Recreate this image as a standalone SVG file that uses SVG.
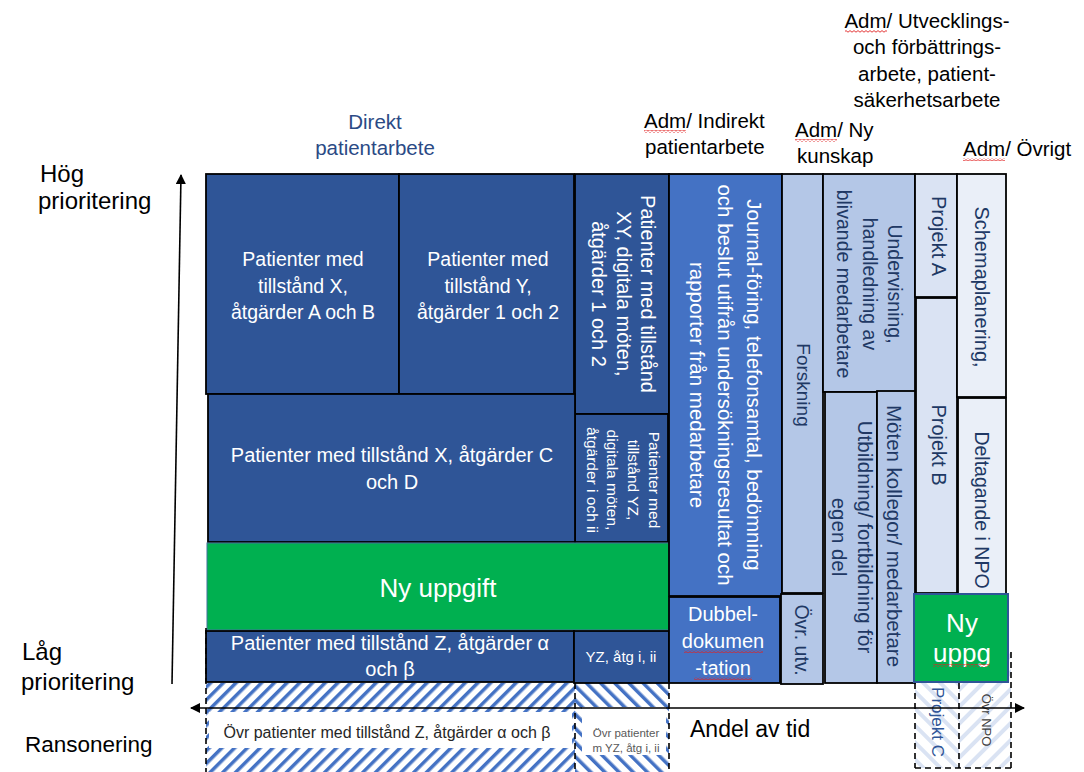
<svg xmlns="http://www.w3.org/2000/svg" width="1084" height="772" viewBox="0 0 1084 772">
<defs>
<style>
text{font-family:"Liberation Sans",Arial,sans-serif}
.w{fill:#fff}
.nv{fill:#203864}
.k{fill:#000}
.dk{fill:#2F5597;stroke:#000;stroke-width:1.8}
.md{fill:#4472C4;stroke:#000;stroke-width:1.8}
.lt{fill:#B4C7E7;stroke:#000;stroke-width:1.8}
.pj{fill:#DAE3F3;stroke:#000;stroke-width:1.8}
.xl{fill:#EAEFF8;stroke:#000;stroke-width:1.8}
.gr{fill:#00B050}
.dash{fill:none;stroke:#000;stroke-width:1.6;stroke-dasharray:6 4}
.ax{fill:none;stroke:#000;stroke-width:1.6}
.wv{fill:url(#wavy)}
</style>
<pattern id="hatchF" patternUnits="userSpaceOnUse" width="9" height="9" patternTransform="rotate(45)">
<rect x="0" y="0" width="3.5" height="9" fill="#4472C4"/>
</pattern>
<pattern id="hatchB" patternUnits="userSpaceOnUse" width="10" height="10" patternTransform="rotate(-45)">
<rect x="0" y="0" width="3.5" height="10" fill="#4472C4"/>
</pattern>
<pattern id="hatchLB" patternUnits="userSpaceOnUse" width="12" height="12" patternTransform="rotate(-45)">
<rect x="0" y="0" width="4" height="12" fill="#DAE3F3"/>
</pattern>
<pattern id="hatchLF" patternUnits="userSpaceOnUse" width="12" height="12" patternTransform="rotate(45)">
<rect x="0" y="0" width="4" height="12" fill="#DAE3F3"/>
</pattern>
<pattern id="wavy" patternUnits="userSpaceOnUse" width="4" height="3">
<path d="M0,2.2 L2,0.6 L4,2.2" fill="none" stroke="#E02020" stroke-width="0.9"/>
</pattern>
<marker id="arr" viewBox="0 0 10 10" refX="9" refY="5" markerWidth="11" markerHeight="10" markerUnits="userSpaceOnUse" orient="auto-start-reverse">
<path d="M0,0 L10,5 L0,10 Z" fill="#000"/>
</marker>
</defs>
<rect width="1084" height="772" fill="#fff"/>

<!-- headings -->
<g id="labels">
<text x="375" y="129" font-size="20.5" text-anchor="middle" fill="#2B4A85">Direkt</text>
<text x="375" y="155" font-size="20.5" text-anchor="middle" fill="#2B4A85">patientarbete</text>
<text x="644" y="128" font-size="20.5" class="k">Adm/ Indirekt</text>
<text x="645" y="154" font-size="20.5" class="k">patientarbete</text>
<rect x="644" y="130" width="42" height="3" class="wv"/>
<text x="795" y="137" font-size="20.5" class="k">Adm/ Ny</text>
<text x="797" y="163" font-size="20.5" class="k">kunskap</text>
<rect x="795" y="139" width="42" height="3" class="wv"/>
<text x="927" y="28" font-size="20.5" text-anchor="middle" class="k">Adm/ Utvecklings-</text>
<text x="927" y="54" font-size="20.5" text-anchor="middle" class="k">och förbättrings-</text>
<text x="927" y="81" font-size="20.5" text-anchor="middle" class="k">arbete, patient-</text>
<text x="927" y="107" font-size="20.5" text-anchor="middle" class="k">säkerhetsarbete</text>
<rect x="845" y="30" width="42" height="3" class="wv"/>
<text x="963" y="156" font-size="20.5" class="k">Adm/ Övrigt</text>
<rect x="963" y="158" width="42" height="3" class="wv"/>
<text x="40" y="182" font-size="24" class="k">Hög</text>
<text x="38" y="209" font-size="24" class="k">prioritering</text>
<text x="22" y="660" font-size="24" class="k">Låg</text>
<text x="21" y="690" font-size="24" class="k">prioritering</text>
<text x="25" y="752" font-size="22.5" class="k">Ransonering</text>
<text x="690" y="737" font-size="23" class="k">Andel av tid</text>
</g>

<!-- hatched rationing areas -->
<g id="ovr-z">
<rect x="206" y="683" width="369" height="90" fill="url(#hatchF)"/>
<rect x="209" y="712" width="363" height="36" fill="#fff"/>
<text x="387" y="738" font-size="16" text-anchor="middle" fill="#262626">Övr patienter med tillstånd Z, åtgärder α och β</text>
</g>
<g id="ovr-yz">
<rect x="575" y="683" width="94" height="90" fill="url(#hatchB)"/>
<rect x="582" y="707" width="84" height="48" fill="#fff"/>
<text x="626" y="737" font-size="11.5" text-anchor="middle" fill="#595959">Övr patienter</text>
<text x="626" y="752" font-size="11.5" text-anchor="middle" fill="#595959">m YZ, åtg i, ii</text>
</g>
<g id="projekt-c">
<rect x="915" y="683" width="44" height="85" fill="url(#hatchLB)"/>
<text transform="translate(937,722) rotate(90)" font-size="17" text-anchor="middle" fill="#2F5597"><tspan x="0" y="4.6">Projekt C</tspan></text>
</g>
<g id="ovr-npo">
<rect x="959" y="652" width="52" height="116" fill="url(#hatchLF)"/>
<text transform="translate(985,720) rotate(90)" font-size="13" text-anchor="middle" fill="#404040"><tspan x="0" y="3.5">Övr NPO</tspan></text>
</g>

<!-- direct patient work -->
<g id="pat-x-ab">
<rect x="206" y="174" width="193" height="220" class="dk"/>
<text x="303" y="266" font-size="19.5" text-anchor="middle" class="w">Patienter med</text>
<text x="303" y="292.5" font-size="19.5" text-anchor="middle" class="w">tillstånd X,</text>
<text x="303" y="319" font-size="19.5" text-anchor="middle" class="w">åtgärder A och B</text>
</g>
<g id="pat-y-12">
<rect x="399" y="174" width="175" height="220" class="dk"/>
<text x="488" y="266" font-size="19.5" text-anchor="middle" class="w">Patienter med</text>
<text x="488" y="292.5" font-size="19.5" text-anchor="middle" class="w">tillstånd Y,</text>
<text x="488" y="319" font-size="19.5" text-anchor="middle" class="w">åtgärder 1 och 2</text>
</g>
<g id="pat-xy">
<rect x="575" y="174" width="94" height="240" class="dk"/>
<text transform="translate(646,294) rotate(90)" font-size="20" text-anchor="middle" class="w"><tspan x="0" y="5.4">Patienter med tillstånd</tspan><tspan x="0" y="29.4">XY, digitala möten,</tspan><tspan x="0" y="54">åtgärder 1 och 2</tspan></text>
</g>
<g id="pat-yz">
<rect x="575" y="414" width="93" height="128" class="dk"/>
<text transform="translate(653,480) rotate(90)" font-size="15.5" text-anchor="middle" class="w"><tspan x="0" y="4.2">Patienter med</tspan><tspan x="0" y="25.2">tillstånd YZ,</tspan><tspan x="0" y="46">digitala möten,</tspan><tspan x="0" y="66">åtgärder i och ii</tspan></text>
</g>
<g id="pat-x-cd">
<rect x="208" y="394" width="367" height="148" class="dk"/>
<text x="392" y="462" font-size="20" text-anchor="middle" class="w">Patienter med tillstånd X, åtgärder C</text>
<text x="392" y="489" font-size="20" text-anchor="middle" class="w">och D</text>
</g>
<g id="ny-uppgift">
<rect x="207" y="543" width="462" height="87" class="gr" stroke="#41719C" stroke-width="1"/>
<text x="438" y="597" font-size="26" text-anchor="middle" class="w">Ny uppgift</text>
</g>
<g id="pat-z">
<rect x="206" y="631" width="368" height="51" class="dk"/>
<text x="390" y="650" font-size="20" text-anchor="middle" class="w">Patienter med tillstånd Z, åtgärder α</text>
<text x="390" y="676" font-size="20" text-anchor="middle" class="w">och β</text>
</g>
<g id="yz-atg">
<rect x="574" y="631" width="95" height="52" class="dk"/>
<text x="621" y="662" font-size="15" text-anchor="middle" class="w">YZ, åtg i, ii</text>
</g>

<!-- indirect -->
<g id="journal">
<rect x="669" y="174" width="113" height="422" class="md"/>
<text transform="translate(752,385) rotate(90)" font-size="20.5" text-anchor="middle" class="w"><tspan x="0" y="5.5">Journal-föring, telefonsamtal, bedömning</tspan><tspan x="0" y="34.5">och beslut utifrån  undersökningsresultat och</tspan><tspan x="0" y="62.5">rapporter från medarbetare</tspan></text>
</g>
<g id="dubbel">
<rect x="669" y="597" width="111" height="86" class="md"/>
<text x="723" y="621" font-size="20" text-anchor="middle" class="w">Dubbel-</text>
<text x="723" y="648" font-size="20" text-anchor="middle" class="w">dokumen</text>
<text x="723" y="675" font-size="20" text-anchor="middle" class="w">-tation</text>
<rect x="684" y="650" width="79" height="3" class="wv"/>
<rect x="694" y="677" width="58" height="3" class="wv"/>
</g>

<!-- new knowledge -->
<g id="forskning">
<rect x="782" y="174" width="41" height="419" class="lt"/>
<text transform="translate(802,385) rotate(90)" font-size="19" text-anchor="middle" class="nv"><tspan x="0" y="5.1">Forskning</tspan></text>
</g>
<g id="ovr-utv">
<rect x="781" y="594" width="42" height="90" class="lt"/>
<text transform="translate(800,640) rotate(90)" font-size="19.5" text-anchor="middle" class="nv"><tspan x="0" y="5.3">Övr. utv.</tspan></text>
</g>
<g id="undervisning">
<rect x="823" y="174" width="92" height="218" class="lt"/>
<text transform="translate(893,284) rotate(90)" font-size="19.5" text-anchor="middle" class="nv"><tspan x="0" y="5.3">Undervisning,</tspan><tspan x="0" y="30.3">handledning av</tspan><tspan x="0" y="56">blivande medarbetare</tspan></text>
</g>
<g id="utbildning">
<rect x="825" y="392" width="52" height="291" class="lt"/>
<text transform="translate(863,537) rotate(90)" font-size="20.5" text-anchor="middle" class="nv"><tspan x="0" y="5.5">Utbildning/ fortbildning för</tspan><tspan x="0" y="31.5">egen del</tspan></text>
</g>
<g id="moten">
<rect x="877" y="391" width="38" height="292" class="lt"/>
<text transform="translate(892,536) rotate(90)" font-size="20.5" text-anchor="middle" class="nv"><tspan x="0" y="5.5">Möten kollegor/ medarbetare</tspan></text>
</g>

<!-- development -->
<g id="projekt-a">
<rect x="915" y="174" width="42" height="123" class="pj"/>
<text transform="translate(937,236) rotate(90)" font-size="20" text-anchor="middle" class="nv"><tspan x="0" y="5.4">Projekt A</tspan></text>
</g>
<g id="projekt-b">
<rect x="916" y="298" width="41" height="295" class="pj"/>
<text transform="translate(937,445) rotate(90)" font-size="20" text-anchor="middle" class="nv"><tspan x="0" y="5.4">Projekt B</tspan></text>
</g>

<!-- other -->
<g id="schema">
<rect x="957" y="174" width="49" height="223" class="xl"/>
<text transform="translate(980,287) rotate(90)" font-size="20" text-anchor="middle" class="nv"><tspan x="0" y="5.4">Schemaplanering,</tspan></text>
</g>
<g id="deltagande">
<rect x="958" y="398" width="48" height="196" class="xl"/>
<text transform="translate(980,510) rotate(90)" font-size="19.5" text-anchor="middle" class="nv"><tspan x="0" y="5.3">Deltagande i NPO</tspan></text>
</g>
<g id="ny-uppg">
<rect x="914" y="594" width="94" height="88" class="gr" stroke="#2F5597" stroke-width="2"/>
<text x="962" y="632" font-size="26" text-anchor="middle" class="w">Ny</text>
<text x="962" y="662" font-size="26" text-anchor="middle" class="w">uppg</text>
<rect x="933" y="664" width="57" height="3" class="wv"/>
</g>

<!-- dashed outlines -->
<g id="dashed">
<line x1="206" y1="628" x2="206" y2="772" class="dash"/>
<line x1="575" y1="683" x2="575" y2="772" class="dash"/>
<line x1="669" y1="683" x2="669" y2="772" class="dash"/>
<line x1="915" y1="683" x2="915" y2="768" class="dash"/>
<line x1="959" y1="683" x2="959" y2="768" class="dash"/>
<line x1="1011" y1="652" x2="1011" y2="768" class="dash"/>
<line x1="915" y1="768" x2="1011" y2="768" class="dash"/>
</g>

<!-- axes -->
<g id="connectors">
<line x1="172" y1="684" x2="181" y2="175" class="ax" marker-end="url(#arr)"/>
<line x1="191" y1="708" x2="1024" y2="708" class="ax" marker-start="url(#arr)" marker-end="url(#arr)"/>
</g>
</svg>
